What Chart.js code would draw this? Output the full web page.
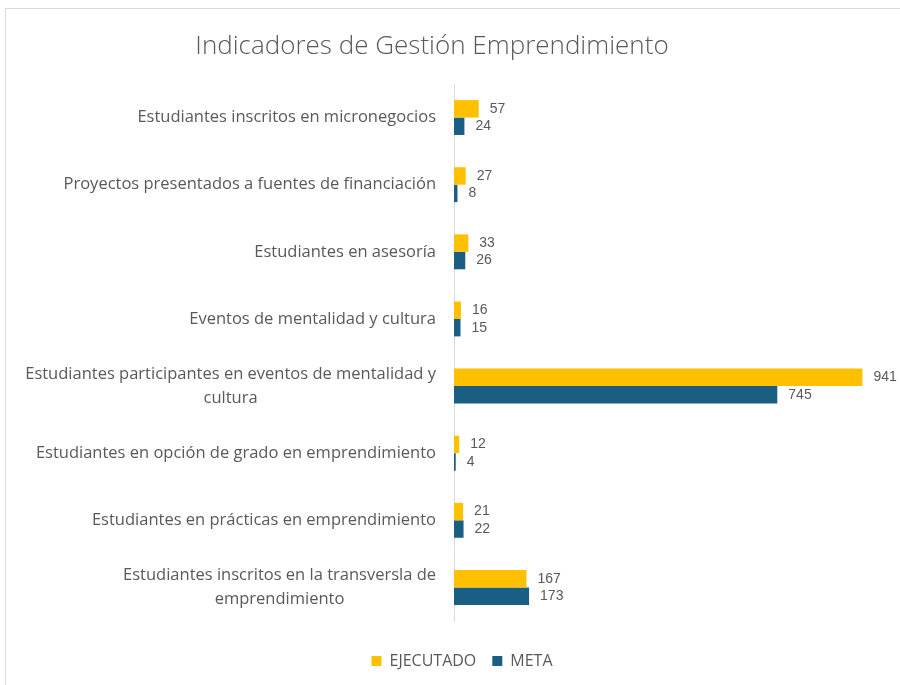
<!DOCTYPE html>
<html>
<head>
<meta charset="utf-8">
<script src="https://cdn.jsdelivr.net/npm/chart.js@4"></script>
<style>
  body { margin: 0; background: #fff; }
  #wrap { position: absolute; left: 5px; top: 8px; width: 895px; height: 676px; border-left: 1px solid #d9d9d9; border-top: 1px solid #d9d9d9; border-bottom: 1px solid #d9d9d9; }
</style>
</head>
<body>
<div id="wrap"><canvas id="indicadores" width="895" height="676"></canvas></div>
<script>
const categories = [
  'Estudiantes inscritos en micronegocios',
  'Proyectos presentados a fuentes de financiación',
  'Estudiantes en asesoría',
  'Eventos de mentalidad y cultura',
  ['Estudiantes participantes en eventos de mentalidad y', 'cultura'],
  'Estudiantes en opción de grado en emprendimiento',
  'Estudiantes en prácticas en emprendimiento',
  ['Estudiantes inscritos en la transversla de', 'emprendimiento']
];
const ejecutado = [57, 27, 33, 16, 941, 12, 21, 167];
const meta = [24, 8, 26, 15, 745, 4, 22, 173];

const titleText = 'Indicadores de Gestión Emprendimiento';

// draws the value next to every bar
const valueLabels = {
  id: 'valueLabels',
  afterDatasetsDraw(chart) {
    const ctx = chart.ctx;
    ctx.save();
    ctx.font = '14px "Liberation Sans", Arial, sans-serif';
    ctx.fillStyle = '#595959';
    ctx.textBaseline = 'middle';
    chart.data.datasets.forEach((ds, i) => {
      chart.getDatasetMeta(i).data.forEach((bar, j) => {
        ctx.fillText(ds.data[j], bar.x + 11, bar.y);
      });
    });
    ctx.restore();
  }
};

// category labels: block right-aligned to the axis, wrapped lines centered inside it (Excel style)
const categoryLabels = {
  id: 'categoryLabels',
  afterDraw(chart) {
    const ctx = chart.ctx;
    const yScale = chart.scales.y;
    const right = yScale.right - 18;
    const lh = 24;
    ctx.save();
    ctx.font = '16.5px "Open Sans", sans-serif';
    ctx.fillStyle = '#595959';
    ctx.textAlign = 'center';
    ctx.textBaseline = 'middle';
    chart.data.labels.forEach((label, i) => {
      const lines = Array.isArray(label) ? label : [label];
      const w = Math.max(...lines.map(l => ctx.measureText(l).width));
      const cx = right - w / 2;
      const y0 = yScale.getPixelForTick(i) - (lines.length - 1) * lh / 2;
      lines.forEach((l, k) => ctx.fillText(l, cx, y0 + k * lh));
    });
    ctx.restore();
  }
};

// title drawn a bit left of center, like the original
const sheetTitle = {
  id: 'sheetTitle',
  afterDraw(chart) {
    const ctx = chart.ctx;
    ctx.save();
    ctx.font = '300 26px "Open Sans", sans-serif';
    ctx.fillStyle = '#595959';
    ctx.textAlign = 'center';
    ctx.textBaseline = 'middle';
    ctx.fillText(titleText, 426, 38);
    ctx.restore();
  }
};

new Chart(document.querySelector('#indicadores'), {
  type: 'bar',
  data: {
    labels: categories,
    datasets: [
      { label: 'EJECUTADO', data: ejecutado, backgroundColor: '#FFC000' },
      { label: 'META', data: meta, backgroundColor: '#1B5E84' }
    ]
  },
  options: {
    indexAxis: 'y',
    responsive: false,
    animation: false,
    layout: { padding: { top: 75, right: 0, bottom: 6, left: 17 } },
    datasets: { bar: { categoryPercentage: 0.52, barPercentage: 1 } },
    scales: {
      x: {
        min: 0, max: 1030,
        grid: { display: false },
        border: { display: false },
        ticks: { display: false },
        afterFit(scale) { scale.height = 16; }
      },
      y: {
        grid: { display: false, drawTicks: false },
        border: { color: '#d9d9d9' },
        ticks: { display: false },
        afterFit(scale) { scale.width = 431; }
      }
    },
    plugins: {
      legend: {
        position: 'bottom',
        labels: { boxWidth: 10, boxHeight: 10, color: '#595959', font: { family: '"Open Sans", sans-serif', size: 16 }, padding: 16 }
      },
      tooltip: { enabled: false }
    }
  },
  plugins: [valueLabels, categoryLabels, sheetTitle]
});
</script>
</body>
</html>
